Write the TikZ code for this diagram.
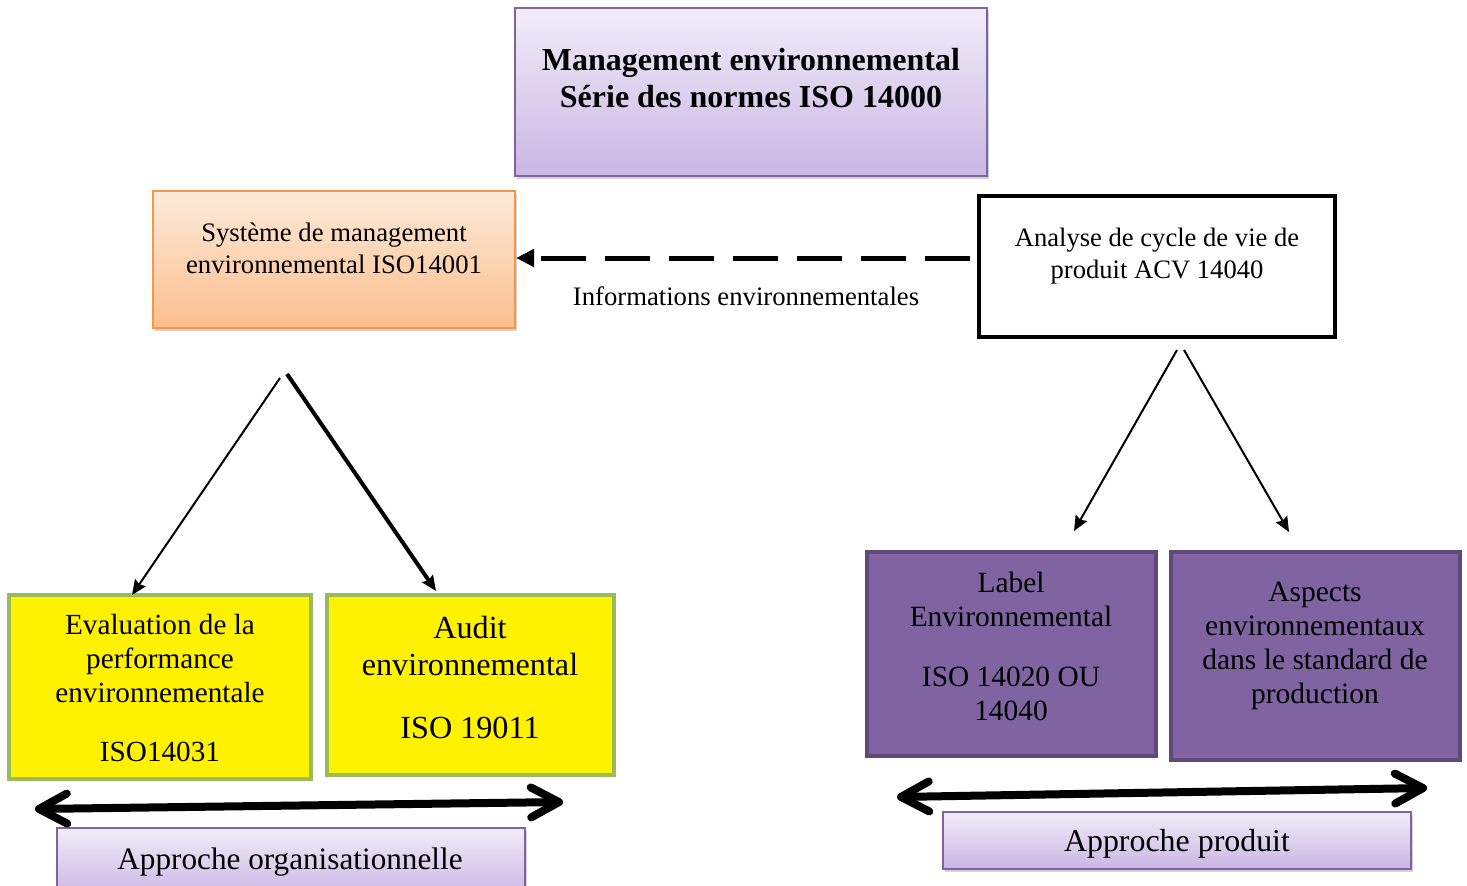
\documentclass[tikz,border=0pt]{standalone}
\usepackage{fontspec}
\setmainfont{Liberation Serif}
\usetikzlibrary{arrows.meta,shadows,calc}
\definecolor{lavtop}{HTML}{F1ECF8}
\definecolor{lavbot}{HTML}{C9B6E4}
\definecolor{lavborder}{HTML}{8064A2}
\definecolor{ortop}{HTML}{FDEADA}
\definecolor{orbot}{HTML}{FBBE8C}
\definecolor{orborder}{HTML}{F79646}
\definecolor{greenborder}{HTML}{9BBB59}
\definecolor{purplefill}{HTML}{8064A2}
\definecolor{purpleborder}{HTML}{5F497A}
\tikzset{
  boxbase/.style={rectangle, anchor=north west, inner sep=0pt, outer sep=0pt},
  lavbox/.style={boxbase, draw=lavborder, line width=1.5pt, top color=lavtop, bottom color=lavbot,
    drop shadow={opacity=0.35, shadow xshift=2pt, shadow yshift=-3pt}},
  orbox/.style={boxbase, draw=orborder, line width=1.5pt, top color=ortop, bottom color=orbot,
    drop shadow={opacity=0.35, shadow xshift=2pt, shadow yshift=-3pt}},
  whitebox/.style={boxbase, draw=black, line width=4pt, fill=white},
  yelbox/.style={boxbase, draw=greenborder, line width=4pt, fill=yellow},
  purbox/.style={boxbase, draw=purpleborder, line width=4pt, fill=purplefill},
  txt/.style={align=center, inner sep=0pt, text=black},
  thinarrow/.style={line width=2pt, -{Stealth[length=15pt, width=13pt, inset=2pt]}},
  thickarrow/.style={line width=4pt, -{Stealth[length=15pt, width=13pt, inset=2pt]}},
  dblarrow/.style={line width=8pt, {Straight Barb[length=28pt, width=30pt, round]}-{Straight Barb[length=28pt, width=30pt, round]}},
}
\begin{document}
\begin{tikzpicture}[x=1pt,y=-1pt]
\useasboundingbox (0,0) rectangle (1467,886);
% boxes
\node[lavbox, minimum width=472pt, minimum height=168pt] (title) at (515,8) {};
\node[orbox, minimum width=362pt, minimum height=137pt] (sme) at (153,191) {};
\node[whitebox, minimum width=356pt, minimum height=141pt] (acv) at (979,196) {};
\node[yelbox, minimum width=302pt, minimum height=184pt] (eval) at (9,595) {};
\node[yelbox, minimum width=287pt, minimum height=180pt] (audit) at (327,595) {};
\node[purbox, minimum width=289pt, minimum height=204pt] (label) at (867,552) {};
\node[purbox, minimum width=289pt, minimum height=208pt] (aspects) at (1171,552) {};
\node[lavbox, minimum width=468pt, minimum height=70pt] (orga) at (57,828) {};
\node[lavbox, minimum width=468pt, minimum height=57pt] (prod) at (943,812) {};
% texts
\node[txt, font=\bfseries\fontsize{32}{37}\selectfont] (titletxt) at (751,78) {Management environnemental\\Série des normes ISO 14000};
\node[txt, font=\fontsize{26.7}{32}\selectfont] (smetxt) at (334,248) {Système de management\\environnemental ISO14001};
\node[txt, font=\fontsize{26.6}{32}\selectfont] (acvtxt) at (1157,256) {Analyse de cycle de vie de\\produit ACV 14040};
\node[txt, font=\fontsize{26.7}{32}\selectfont] (infotxt) at (746,296) {Informations environnementales};
\node[txt, font=\fontsize{29.2}{34}\selectfont] (evaltxt) at (160,688) {Evaluation de la\\performance\\environnementale\\[25pt]ISO14031};
\node[txt, font=\fontsize{32.2}{37}\selectfont] (audittxt) at (470,677) {Audit\\environnemental\\[26pt]ISO 19011};
\node[txt, font=\fontsize{29.4}{34}\selectfont] (labeltxt) at (1011,646) {Label\\Environnemental\\[26pt]ISO 14020 OU\\14040};
\node[txt, font=\fontsize{29.5}{34}\selectfont] (aspectstxt) at (1315,646) {Aspects\\environnementaux\\dans le standard de\\production};
\node[txt, font=\fontsize{31.2}{37}\selectfont] (orgatxt) at (290,862) {Approche organisationnelle};
\node[txt, font=\fontsize{31.9}{37}\selectfont] (prodtxt) at (1177,844) {Approche produit};
% connector end points
\coordinate (d1) at (970,258);
\coordinate (d2) at (516,258);
\coordinate (l1s) at (280,378);
\coordinate (l1e) at (132,595);
\coordinate (l2s) at (287,374);
\coordinate (l2e) at (436,591);
\coordinate (r1s) at (1177,350);
\coordinate (r1e) at (1074,531);
\coordinate (r2s) at (1184,350);
\coordinate (r2e) at (1289,532);
\coordinate (ba1) at (35,809);
\coordinate (ba2) at (563,802);
\coordinate (bb1) at (897,797);
\coordinate (bb2) at (1427,788);
% connectors
\draw[line width=5pt, dash pattern=on 45pt off 19pt, -{Triangle[length=18pt, width=17pt]}] (d1) -- (d2);
\draw[thinarrow] (l1s) -- (l1e);
\draw[thickarrow] (l2s) -- (l2e);
\draw[thinarrow] (r1s) -- (r1e);
\draw[thinarrow] (r2s) -- (r2e);
\draw[dblarrow] (ba1) -- (ba2);
\draw[dblarrow] (bb1) -- (bb2);
\end{tikzpicture}
\end{document}
